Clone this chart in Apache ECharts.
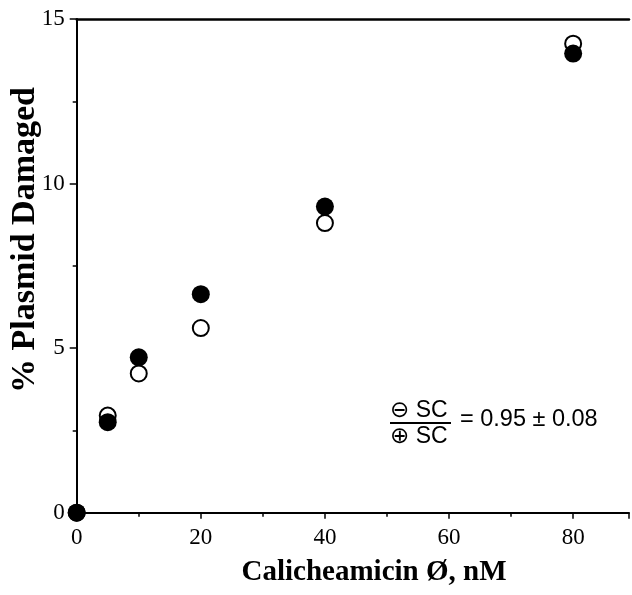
<!DOCTYPE html>
<html>
<head>
<meta charset="utf-8">
<script src="https://cdn.jsdelivr.net/npm/echarts@6/dist/echarts.min.js"></script>
<style>html,body{margin:0;padding:0;background:#fff;}#c{width:632px;height:595px;}</style>
</head>
<body>
<div id="c"></div>
<script>
var concentrations = [0, 5, 10, 20, 40, 80];
var filledValues = [0, 2.75, 4.72, 6.64, 9.3, 13.95];
var openValues = [0, 2.95, 4.23, 5.61, 8.8, 14.25];
var xTitle = 'Calicheamicin \u00D8, nM';
var yTitle = '% Plasmid Damaged';
var numeratorText = '\u2296 SC';
var denominatorText = '\u2295 SC';
var ratioText = '= 0.95 \u00B1 0.08';

var serif = '"Liberation Serif", "DejaVu Serif", serif';
var sans = '"Liberation Sans", "DejaVu Sans", sans-serif';

function pairs(xs, ys) { return xs.map(function (x, i) { return [x, ys[i]]; }); }

var chart = echarts.init(document.getElementById('c'), null, {renderer: 'canvas'});
chart.setOption({
  animation: false,
  backgroundColor: '#fff',
  grid: {left: 76.7, right: 0, top: 19, bottom: 82.3, containLabel: false},
  xAxis: [{
    type: 'value', min: 0, max: 89, interval: 20, position: 'bottom',
    axisLine: {show: true, lineStyle: {color: '#000', width: 2}},
    axisTick: {show: true, length: 6, lineStyle: {color: '#000', width: 1.5}},
    minorTick: {show: true, splitNumber: 2, length: 4, lineStyle: {color: '#000', width: 1.5}},
    splitLine: {show: false},
    axisLabel: {show: true, color: '#000', fontFamily: serif, fontSize: 23, margin: 14,
      formatter: function (v) { return v > 85 ? '' : String(v); }}
  }, {
    type: 'value', min: 0, max: 89, position: 'top',
    axisLine: {show: true, lineStyle: {color: '#000', width: 2.5}},
    axisTick: {show: false}, axisLabel: {show: false}, splitLine: {show: false}
  }],
  yAxis: [{
    type: 'value', min: 0, max: 15, interval: 5,
    axisLine: {show: true, lineStyle: {color: '#000', width: 2}},
    axisTick: {show: true, length: 7, lineStyle: {color: '#000', width: 1.5}},
    minorTick: {show: true, splitNumber: 2, length: 4, lineStyle: {color: '#000', width: 1.5}},
    splitLine: {show: false},
    axisLabel: {show: true, color: '#000', fontFamily: serif, fontSize: 23, margin: 12}
  }],
  graphic: [
    {type: 'text', x: 25, y: 240, rotation: Math.PI / 2,
      style: {text: yTitle, fill: '#000', font: 'bold 34px ' + serif, textAlign: 'center', textVerticalAlign: 'middle'}},
    {type: 'text', x: 374, y: 573,
      style: {text: xTitle, fill: '#000', font: 'bold 29px ' + serif, textAlign: 'center', textVerticalAlign: 'middle'}},
    {type: 'text', x: 390, y: 411, style: {text: numeratorText, fill: '#000', font: '23px ' + sans, textAlign: 'left', textVerticalAlign: 'middle'}},
    {type: 'line', shape: {x1: 390, y1: 423, x2: 451, y2: 423}, style: {stroke: '#000', lineWidth: 2}},
    {type: 'text', x: 390, y: 437, style: {text: denominatorText, fill: '#000', font: '23px ' + sans, textAlign: 'left', textVerticalAlign: 'middle'}},
    {type: 'text', x: 460, y: 420, style: {text: ratioText, fill: '#000', font: '23.5px ' + sans, textAlign: 'left', textVerticalAlign: 'middle'}}
  ],
  series: [{
    type: 'scatter', name: 'open', data: pairs(concentrations, openValues),
    symbol: 'circle', symbolSize: 16, clip: false, z: 2,
    itemStyle: {color: '#fff', borderColor: '#000', borderWidth: 2, opacity: 1}
  }, {
    type: 'scatter', name: 'filled', data: pairs(concentrations, filledValues),
    symbol: 'circle', symbolSize: 18, clip: false, z: 3,
    itemStyle: {color: '#000', opacity: 1}
  }]
});
</script>
</body>
</html>
